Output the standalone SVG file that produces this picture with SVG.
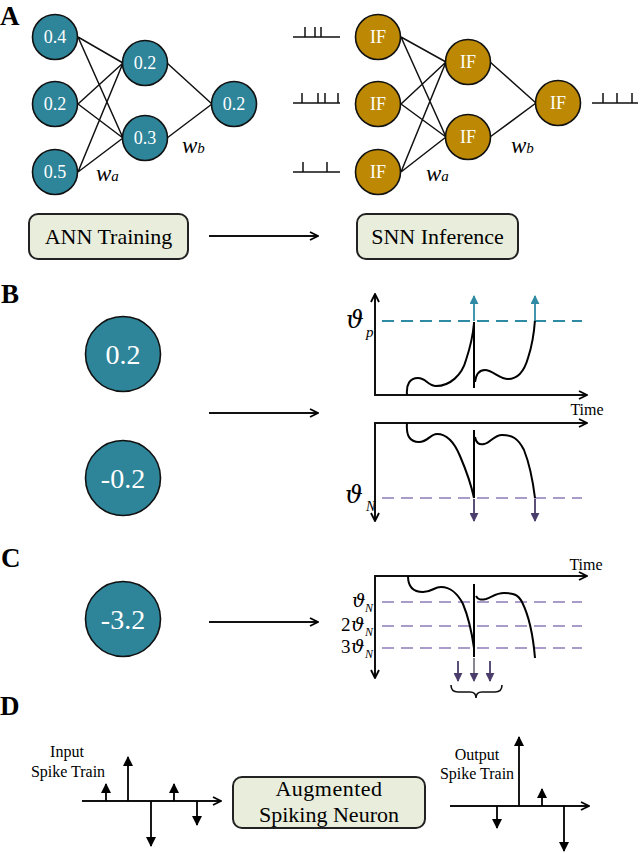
<svg xmlns="http://www.w3.org/2000/svg" width="640" height="853" viewBox="0 0 640 853">
<defs>
<style>
.lbl{font-family:"Liberation Serif","Times New Roman",serif;font-weight:bold;font-size:27px;fill:#000}
.ser{font-family:"Liberation Serif","Times New Roman",serif;fill:#000}
.it{font-family:"Liberation Serif","Times New Roman",serif;font-style:italic;fill:#000}
.th{font-family:"DejaVu Serif","Liberation Serif",serif;font-style:italic;fill:#000}
.wt{font-family:"Liberation Serif","Times New Roman",serif;fill:#fff;text-anchor:middle}
.ann{fill:#2e8499;stroke:#111;stroke-width:1.6}
.snn{fill:#bd8904;stroke:#111;stroke-width:1.6}
.box{fill:#e9eedc;stroke:#222;stroke-width:2}
.ln{stroke:#111;stroke-width:1.5;fill:none}
.ax{stroke:#111;stroke-width:2;fill:none}
.cv{stroke:#000;stroke-width:2;fill:none}
.dT{stroke:#2e8ba3;stroke-width:2;stroke-dasharray:12 7;fill:none}
.dP{stroke:#a99cc8;stroke-width:2;stroke-dasharray:12 7;fill:none}
</style>
<marker id="chev" viewBox="0 0 10 10" refX="9" refY="5" markerUnits="userSpaceOnUse" markerWidth="10" markerHeight="12" orient="auto">
<path d="M1,1 L9,5 L1,9" fill="none" stroke="#000" stroke-width="1.8"/>
</marker>
<marker id="tri" viewBox="0 0 10 10" refX="9" refY="5" markerUnits="userSpaceOnUse" markerWidth="11" markerHeight="10" orient="auto">
<path d="M0,0 L10,5 L0,10 z" fill="#000"/>
</marker>
<marker id="triT" viewBox="0 0 10 10" refX="9" refY="5" markerUnits="userSpaceOnUse" markerWidth="9" markerHeight="9" orient="auto">
<path d="M0,0 L10,5 L0,10 z" fill="#2e8ba3"/>
</marker>
<marker id="triP" viewBox="0 0 10 10" refX="9" refY="5" markerUnits="userSpaceOnUse" markerWidth="9" markerHeight="9" orient="auto">
<path d="M0,0 L10,5 L0,10 z" fill="#4a3d6c"/>
</marker>
</defs>
<rect width="640" height="853" fill="#fff"/>

<!-- Panel labels -->
<text class="lbl" x="0" y="25">A</text>
<text class="lbl" x="1" y="303">B</text>
<text class="lbl" x="1" y="567">C</text>
<text class="lbl" x="0" y="715">D</text>

<!-- Connectors -->
<g id="connectors">
<path class="ln" d="M78,37 L123,63 M78,37 L123,138 M78,104 L123,63 M78,104 L123,138 M78,172 L123,63 M78,172 L123,138 M167,63 L212,104 M167,138 L212,104"/>
<path class="ln" d="M401,37 L446,62 M401,37 L446,137 M401,104 L446,62 M401,104 L446,137 M401,172 L446,62 M401,172 L446,137 M490,62 L536,103 M490,137 L536,103"/>
<path class="ax" d="M209,236 L318,236" marker-end="url(#chev)"/>
<path class="ax" d="M209,413 L318,413" marker-end="url(#chev)"/>
<path class="ax" d="M209,622 L318,622" marker-end="url(#chev)"/>
</g>

<!-- Panel A: ANN -->
<g id="ann-in1"><circle class="ann" cx="55" cy="37" r="22.5"/><text class="wt" x="55" y="43" font-size="18">0.4</text></g>
<g id="ann-in2"><circle class="ann" cx="55" cy="104" r="22.5"/><text class="wt" x="55" y="110" font-size="18">0.2</text></g>
<g id="ann-in3"><circle class="ann" cx="55" cy="172" r="22.5"/><text class="wt" x="55" y="178" font-size="18">0.5</text></g>
<g id="ann-h1"><circle class="ann" cx="145" cy="63" r="22.5"/><text class="wt" x="145" y="69" font-size="18">0.2</text></g>
<g id="ann-h2"><circle class="ann" cx="145" cy="138" r="22.5"/><text class="wt" x="145" y="144" font-size="18">0.3</text></g>
<g id="ann-out"><circle class="ann" cx="234" cy="104" r="22.5"/><text class="wt" x="234" y="110" font-size="18">0.2</text></g>
<text class="it" x="96" y="181" font-size="23">w<tspan font-size="15">a</tspan></text>
<text class="it" x="182" y="153" font-size="23">w<tspan font-size="15">b</tspan></text>
<g id="ann-box"><rect class="box" x="29" y="214" width="159" height="45" rx="9"/><text class="ser" x="108.5" y="244" font-size="22" text-anchor="middle">ANN Training</text></g>

<!-- Panel A: SNN -->
<g id="spikes-in">
<path class="ln" d="M293,37 H340 M305,37 V27 M315,37 V27 M321,37 V27"/>
<path class="ln" d="M293,103 H340 M302,103 V93 M318,103 V93 M325,103 V93 M338,103 V93"/>
<path class="ln" d="M293,172 H340 M303,172 V162 M327,172 V162"/>
</g>
<g id="spikes-out"><path class="ln" d="M592,103 H638 M603,103 V93 M617,103 V93 M632,103 V93"/></g>
<g id="snn-in1"><circle class="snn" cx="378" cy="37" r="22.5"/><text class="wt" x="378" y="43" font-size="18">IF</text></g>
<g id="snn-in2"><circle class="snn" cx="378" cy="104" r="22.5"/><text class="wt" x="378" y="110" font-size="18">IF</text></g>
<g id="snn-in3"><circle class="snn" cx="378" cy="172" r="22.5"/><text class="wt" x="378" y="178" font-size="18">IF</text></g>
<g id="snn-h1"><circle class="snn" cx="468" cy="62" r="22.5"/><text class="wt" x="468" y="68" font-size="18">IF</text></g>
<g id="snn-h2"><circle class="snn" cx="468" cy="137" r="22.5"/><text class="wt" x="468" y="143" font-size="18">IF</text></g>
<g id="snn-out"><circle class="snn" cx="558" cy="103" r="22.5"/><text class="wt" x="558" y="109" font-size="18">IF</text></g>
<text class="it" x="426" y="181" font-size="23">w<tspan font-size="15">a</tspan></text>
<text class="it" x="511" y="153" font-size="23">w<tspan font-size="15">b</tspan></text>
<g id="snn-box"><rect class="box" x="357" y="214" width="161" height="45" rx="9"/><text class="ser" x="437.5" y="244" font-size="22" text-anchor="middle">SNN Inference</text></g>

<!-- Panel B -->
<g id="b-pos"><circle class="ann" cx="123" cy="354" r="37.5"/><text class="wt" x="123" y="364" font-size="28">0.2</text></g>
<g id="b-neg"><circle class="ann" cx="123" cy="478" r="37.5"/><text class="wt" x="123" y="488" font-size="28">-0.2</text></g>
<g id="b-plot-top">
<path class="ax" d="M375,395 V294" marker-end="url(#chev)"/>
<path class="ax" d="M374,395 H587" marker-end="url(#chev)"/>
<path class="dT" d="M382,321 H582"/>
<path class="cv" d="M407,395 C406,384 410,378 418,378 C426,378 428,386 436,386 C450,386 462,375 466,360 C470,348 473,335 474,323 M474,322 V388 M475,382 C476,374 480,370 485,370 C492,370 500,379 508,379 C518,379 524,372 528,358 C532,346 534,334 535,320"/>
<path d="M474,321 V296" stroke="#2e8ba3" stroke-width="1.8" marker-end="url(#triT)"/>
<path d="M535,321 V296" stroke="#2e8ba3" stroke-width="1.8" marker-end="url(#triT)"/>
<text class="th" x="346" y="328" font-size="25">ϑ</text><text class="it" x="366" y="337" font-size="15">p</text>
<text class="ser" x="587" y="415" font-size="16" text-anchor="middle">Time</text>
</g>
<g id="b-plot-bot">
<path class="ax" d="M374,423 H587" marker-end="url(#chev)"/>
<path class="ax" d="M375,423 V521" marker-end="url(#chev)"/>
<path class="dP" d="M382,498 H582"/>
<path class="cv" d="M407,423 C406,436 410,442 419,442 C428,442 430,434 437,434 C447,434 455,444 460,456 C466,470 471,484 474,498 M474,430 V498 M475,437 C476,443 479,445 484,444 C490,443 494,435 502,435 C512,435 518,438 524,450 C530,465 533,482 535,498"/>
<path d="M474,499 V521" stroke="#4a3d6c" stroke-width="1.8" marker-end="url(#triP)"/>
<path d="M535,499 V521" stroke="#4a3d6c" stroke-width="1.8" marker-end="url(#triP)"/>
<text class="th" x="345" y="503" font-size="25">ϑ</text><text class="it" x="366" y="511" font-size="14">N</text>
</g>

<!-- Panel C -->
<g id="c-neg"><circle class="ann" cx="123" cy="619" r="37.5"/><text class="wt" x="123" y="629" font-size="28">-3.2</text></g>
<g id="c-plot">
<path class="ax" d="M374,576 H587" marker-end="url(#chev)"/>
<path class="ax" d="M375,576 V678" marker-end="url(#chev)"/>
<text class="ser" x="586" y="570" font-size="16" text-anchor="middle">Time</text>
<path class="dP" d="M382,602 H582 M382,626 H582 M382,648 H582"/>
<path class="cv" d="M408,576 C408,586 413,592 423,592 C432,592 434,587 441,587 C450,587 458,594 463,604 C468,616 472,634 474,648 M474,584 V657 M476,596 C478,600 481,600 486,599 C492,597 496,593 504,593 C512,593 518,594 522,602 C528,614 533,634 535,658"/>
<path d="M458,661 V681" stroke="#4a3d6c" stroke-width="1.8" marker-end="url(#triP)"/>
<path d="M474,658 V681" stroke="#7c7a86" stroke-width="1.8" marker-end="url(#triP)"/>
<path d="M490,661 V681" stroke="#4a3d6c" stroke-width="1.8" marker-end="url(#triP)"/>
<path d="M451,685 Q451,692 458,692 H470 Q476,692 476,698 Q476,692 482,692 H495 Q502,692 502,685" fill="none" stroke="#111" stroke-width="1.6"/>
<text class="th" x="352" y="607" font-size="19">ϑ</text><text class="it" x="365" y="612" font-size="12">N</text>
<text class="ser" x="341" y="631" font-size="19">2</text><text class="th" x="351" y="631" font-size="19">ϑ</text><text class="it" x="365" y="636" font-size="12">N</text>
<text class="ser" x="341" y="653" font-size="19">3</text><text class="th" x="351" y="653" font-size="19">ϑ</text><text class="it" x="365" y="658" font-size="12">N</text>
</g>

<!-- Panel D -->
<g id="d-input">
<text class="ser" x="67" y="757" font-size="16" text-anchor="middle">Input</text>
<text class="ser" x="68" y="777" font-size="16" text-anchor="middle">Spike Train</text>
<path class="ax" d="M82,801 H221" marker-end="url(#chev)"/>
<g stroke="#000" stroke-width="1.8">
<path d="M106,801 V784" marker-end="url(#tri)"/>
<path d="M128,801 V757" marker-end="url(#tri)"/>
<path d="M151,801 V846" marker-end="url(#tri)"/>
<path d="M174,801 V784" marker-end="url(#tri)"/>
<path d="M197,801 V825" marker-end="url(#tri)"/>
</g>
</g>
<g id="d-neuron"><rect class="box" x="233" y="777" width="192" height="51" rx="9"/>
<text class="ser" x="329" y="796" font-size="22" text-anchor="middle" letter-spacing="0.5">Augmented</text>
<text class="ser" x="329" y="822" font-size="22" text-anchor="middle">Spiking Neuron</text></g>
<g id="d-output">
<text class="ser" x="477" y="760" font-size="16" text-anchor="middle">Output</text>
<text class="ser" x="477" y="779" font-size="16" text-anchor="middle">Spike Train</text>
<path class="ax" d="M450,806 H589" marker-end="url(#chev)"/>
<g stroke="#000" stroke-width="1.8">
<path d="M497,806 V828" marker-end="url(#tri)"/>
<path d="M519,806 V737" marker-end="url(#tri)"/>
<path d="M542,806 V789" marker-end="url(#tri)"/>
<path d="M564,806 V851" marker-end="url(#tri)"/>
</g>
</g>
</svg>
